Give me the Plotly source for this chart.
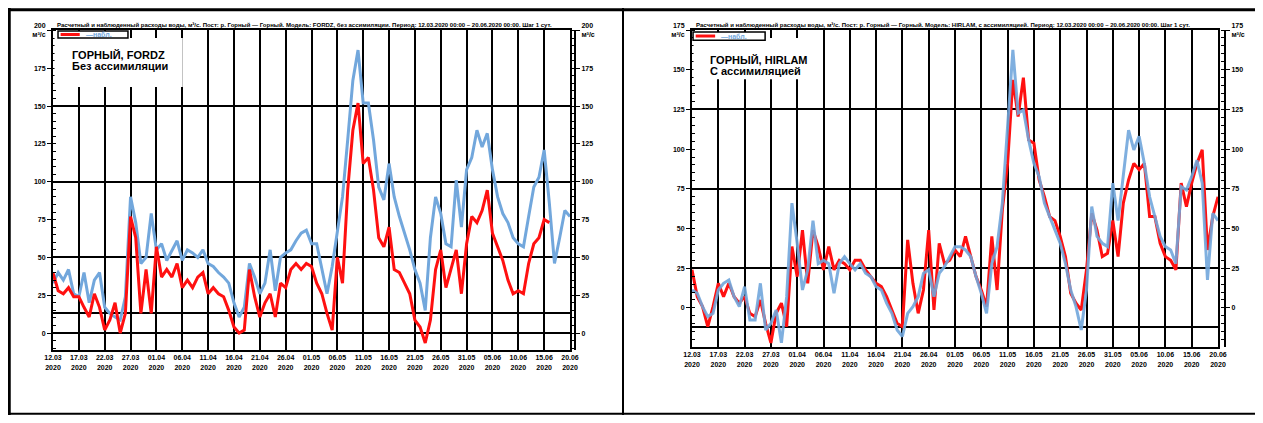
import plotly.graph_objects as go
import pandas as pd

# ---------------- data ----------------
start_date = "2020-03-12"
n_days = 101
dates = pd.date_range(start_date, periods=n_days, freq="D")

# Left panel: ГОРНЫЙ, FORDZ (без ассимиляции)
fordz_model = [39.7, 28, 26, 30, 24, 24, 17, 10.6, 26, 17, 2, 8.6, 20, 0, 13, 77, 63, 13, 42, 13,
               57, 37, 42, 37, 46, 30, 35, 30, 37, 40, 26, 30, 26, 24, 15, 4, 0, 2, 42, 24,
               10.6, 20, 26, 10.6, 33, 30, 42, 46, 42, 46, 44, 33, 26, 13, 2, 50, 33, 94.5, 134, 152,
               112, 116, 94.5, 63, 57, 70, 42, 40, 33, 26, 8.6, 4, -6.6, 8.6, 42, 55, 30, 42, 55, 26,
               59, 77, 73, 81, 94.5, 66, 57, 48, 35, 26, 28, 26, 46, 59, 63, 75, 73]
fordz_obs = [33, 40, 35, 42, 26, 24, 40, 20, 35, 40, 17, 13, 10.6, 8.6, 24, 90, 73, 46, 50, 79,
             55, 59, 48, 55, 61, 48, 55, 53, 50, 55, 46, 44, 40, 37, 33, 20, 10.6, 17, 46, 37,
             26, 33, 55, 28, 50, 53, 55, 61, 66, 68, 59, 59, 42, 26, 44, 68, 90, 127.6, 167, 187,
             152, 152, 127.6, 96.5, 88, 112, 90, 77, 66, 55, 42, 33, 15, 63, 90, 79, 59, 57, 101, 70,
             108, 116, 134, 123, 132, 108, 90, 79, 73, 63, 59, 57, 77, 96.5, 103, 121, 86, 46, 63, 81, 77]

# Right panel: ГОРНЫЙ, HIRLAM (с ассимиляцией)
hirlam_model = [24, 7.1, 0.8, -11.8, 0.8, 15.5, 7.1, 15.5, 7.1, 3, 7.1, -3.4, -5.5, 5, -9.7, -22, -3.4, 3, -11.8, 38.6,
                19.7, 49, 15.5, 49, 38.6, 24, 38.6, 24, 30, 27.9, 24, 30, 30, 24, 19.7, 15.5, 13.4, 7.1, -1.3, -9.7,
                -11.8, 42.8, 15.5, -3.4, 11.3, 49, -1.3, 40.7, 27.9, 30, 36.5, 32.3, 45, 32.3, 19.7, 11.3, 0.8, 45, 11.3, 61.7,
                91, 143.6, 120.5, 145, 105.8, 103.7, 80.6, 70, 57.5, 55, 45, 32.3, 9.2, 3, -1.3, 24, 59.6, 49, 32.3, 34.4,
                55, 32.3, 66, 80.6, 91, 87, 91, 57.5, 57.5, 40.7, 32.3, 30, 24, 78.6, 63.8, 78.6, 91, 99.5, 36.5, 57.5, 70]
hirlam_obs = [11.3, 9.2, 0.8, -5.5, -3.4, 11.3, 15.5, 17.6, 7.1, 0.8, 13.4, -7.6, -7.6, 15.5, -13.9, -9.7, -1.3, -22, 7.1, 66,
              40.7, 11.3, 24, 55, 27.9, 30, 27.9, 9.2, 27.9, 32.3, 27.9, 24, 27.9, 21.8, 19.7, 13.4, 11.3, 3, -3.4, -13.9,
              -18, -3.4, 0.8, 7.1, 21.8, 24, 7.1, 21.8, 26, 32.3, 38.6, 38.6, 36.5, 32.3, 19.7, 9.2, -3.4, 27.9, 38.6, 66,
              112, 162.5, 122.6, 124.7, 105.8, 91, 82.7, 66, 57.5, 49, 40.7, 27.9, 11.3, 0.8, -13.9, 11.3, 63.8, 45, 40.7, 38.6,
              78.6, 55, 82.7, 112, 99.5, 108, 91, 70, 57.5, 45, 38.6, 36.5, 27.9, 76.4, 74.3, 82.7, 93, 78.6, 17.6, 59.6, 55]

left_ticks = [0, 25, 50, 75, 100, 125, 150, 175, 200]
left_ticktext = ["0", "25", "50", "75", "100", "125", "150", "175", "200<br>м³/с"]
left_grid = [0, 13, 50, 100, 150]
left_range = [-11.2, 200.3]

right_ticks = [0, 25, 50, 75, 100, 125, 150, 175]
right_ticktext = ["0", "25", "50", "75", "100", "125", "150", "175<br>м³/с"]
right_grid = [-12, 25, 75, 125]
right_range = [-24.6, 175]

left_title = ["ГОРНЫЙ, FORDZ", "Без ассимиляции"]
right_title = ["ГОРНЫЙ, HIRLAM", "С ассимиляцией"]
left_header = ("Расчетный и наблюденный расходы воды, м³/с. Пост: р. Горный — Горный. Модель: FORDZ, "
               "без ассимиляции. Период: 12.03.2020 00:00 – 20.06.2020 00:00. Шаг 1 сут.")
right_header = ("Расчетный и наблюденный расходы воды, м³/с. Пост: р. Горный — Горный. Модель: HIRLAM, "
                "с ассимиляцией. Период: 12.03.2020 00:00 – 20.06.2020 00:00. Шаг 1 сут.")
obs_label = "—набл."

RED = "#ff1010"
BLUE = "#72a7dc"
FONT = "Liberation Sans"

# ---------------- figure ----------------
fig = go.Figure()
fig.add_trace(go.Scatter(x=dates, y=fordz_obs, mode="lines", line=dict(color=BLUE, width=3),
                         xaxis="x", yaxis="y"))
fig.add_trace(go.Scatter(x=dates[:len(fordz_model)], y=fordz_model, mode="lines",
                         line=dict(color=RED, width=3), xaxis="x", yaxis="y"))
fig.add_trace(go.Scatter(x=dates, y=hirlam_model, mode="lines", line=dict(color=RED, width=3),
                         xaxis="x2", yaxis="y2"))
fig.add_trace(go.Scatter(x=dates, y=hirlam_obs, mode="lines", line=dict(color=BLUE, width=3),
                         opacity=0.9, xaxis="x2", yaxis="y2"))
# invisible carriers so the label axes get drawn
for xa, ya in [("x", "y3"), ("x", "y4"), ("x2", "y5"), ("x2", "y6")]:
    fig.add_trace(go.Scatter(x=[dates[0]], y=[None], mode="lines", xaxis=xa, yaxis=ya,
                             hoverinfo="skip", showlegend=False))

W, H = 1247, 407
tickfont = dict(family=FONT, size=7, color="black", weight="bold")


def xaxis(domain, anchor):
    return dict(domain=domain, anchor=anchor, type="date",
                range=[dates[0], dates[-1]], tick0=dates[0], dtick=5 * 86400000,
                tickformat="%d.%m<br>%Y", tickfont=tickfont,
                showgrid=True, gridcolor="black", gridwidth=2,
                showline=True, mirror=True, linecolor="black", linewidth=2,
                ticks="", zeroline=False)


def grid_y(domain, anchor, rng, grid):
    return dict(domain=domain, anchor=anchor, range=rng, tickmode="array", tickvals=grid,
                showticklabels=False, ticks="", showgrid=True, gridcolor="black", gridwidth=2,
                showline=True, mirror=True, linecolor="black", linewidth=2, zeroline=False)


def label_y(over, side, rng, tv, tt, anchor=None, position=None):
    d = dict(overlaying=over, side=side, range=rng, tickmode="array", tickvals=tv, ticktext=tt,
             tickfont=tickfont, showgrid=False, zeroline=False, ticks="outside", ticklen=4,
             tickcolor="black", showline=True, linecolor="black", linewidth=2,
             minor=dict(tickmode="linear", tick0=0, dtick=5, ticks="inside", ticklen=3,
                        tickcolor="black", showgrid=False))
    if position is not None:
        d["anchor"] = "free"
        d["position"] = position
    else:
        d["anchor"] = anchor
    return d


ld = [45 / W, 562 / W]
lyd = [(H - 342) / H, (H - 22) / H]
rd = [684 / W, 1210 / W]
ryd = [(H - 339) / H, (H - 22) / H]

fig.update_layout(
    width=W, height=H, margin=dict(l=0, r=0, t=0, b=0, autoexpand=False),
    paper_bgcolor="white", plot_bgcolor="white", showlegend=False,
    font=dict(family=FONT),
    xaxis=xaxis(ld, "y"),
    yaxis=grid_y(lyd, "x", left_range, left_grid),
    yaxis3=label_y("y", "left", left_range, left_ticks, left_ticktext, anchor="x"),
    yaxis4=label_y("y", "right", left_range, left_ticks, left_ticktext, position=567 / W),
    xaxis2=xaxis(rd, "y2"),
    yaxis2=grid_y(ryd, "x2", right_range, right_grid),
    yaxis5=label_y("y2", "left", right_range, right_ticks, right_ticktext, anchor="x2"),
    yaxis6=label_y("y2", "right", right_range, right_ticks, right_ticktext, position=1217 / W),
)

shapes = []
annotations = []


def panel_decor(xr, yr, title, header, text_box, legend_box):
    shapes.append(dict(type="rect", xref=xr, yref=yr, x0=0.003, x1=text_box[0], y0=text_box[1], y1=0.975,
                       fillcolor="white", line=dict(width=0), layer="above"))
    lx0, lx1, ly0, ly1 = legend_box
    shapes.append(dict(type="rect", xref=xr, yref=yr, x0=lx0, x1=lx1, y0=ly0, y1=ly1,
                       fillcolor="white", line=dict(color="black", width=1.5), layer="above"))
    ym = (ly0 + ly1) / 2
    shapes.append(dict(type="line", xref=xr, yref=yr, x0=lx0 + 0.005, x1=lx0 + 0.042, y0=ym, y1=ym,
                       line=dict(color=RED, width=3), layer="above"))
    annotations.append(dict(xref=xr, yref=yr, x=lx0 + 0.05, y=ym, text=obs_label, showarrow=False,
                            xanchor="left", yanchor="middle",
                            font=dict(family=FONT, size=7, color=BLUE, weight="bold")))
    annotations.append(dict(xref=xr, yref=yr, x=title[0], y=title[1], text=title[2], showarrow=False,
                            xanchor="left", yanchor="middle",
                            font=dict(family=FONT, size=11, color="black", weight="bold")))
    annotations.append(dict(xref=xr, yref=yr, x=title[0], y=title[3], text=title[4], showarrow=False,
                            xanchor="left", yanchor="middle",
                            font=dict(family=FONT, size=11, color="black", weight="bold")))
    annotations.append(dict(xref=xr, yref="paper", x=0.003, y=(H - 17) / H, text=header, showarrow=False,
                            xanchor="left", yanchor="middle",
                            font=dict(family=FONT, size=6, color="black", weight="bold")))


panel_decor("x domain", "y domain",
            (0.033, 0.922, left_title[0], 0.8875, left_title[1]),
            left_header, (0.251, 0.822), (0.0097, 0.145, 0.975, 0.997))
panel_decor("x2 domain", "y2 domain",
            (0.030, 0.905, right_title[0], 0.871, right_title[1]),
            right_header, (0.245, 0.845), (0.002, 0.139, 0.968, 0.994))

# outer frame and divider
shapes.append(dict(type="line", xref="paper", yref="paper", x0=0, x1=1, y0=0.996, y1=0.996,
                   line=dict(color="black", width=3)))
shapes.append(dict(type="line", xref="paper", yref="paper", x0=0.001, x1=0.001, y0=0, y1=1,
                   line=dict(color="black", width=3)))
shapes.append(dict(type="line", xref="paper", yref="paper", x0=615 / W, x1=615 / W, y0=0, y1=1,
                   line=dict(color="black", width=2)))
shapes.append(dict(type="line", xref="paper", yref="paper", x0=0, x1=1, y0=0.003, y1=0.003,
                   line=dict(color="black", width=2)))

fig.update_layout(shapes=shapes, annotations=annotations)
fig.write_html("out.html")
